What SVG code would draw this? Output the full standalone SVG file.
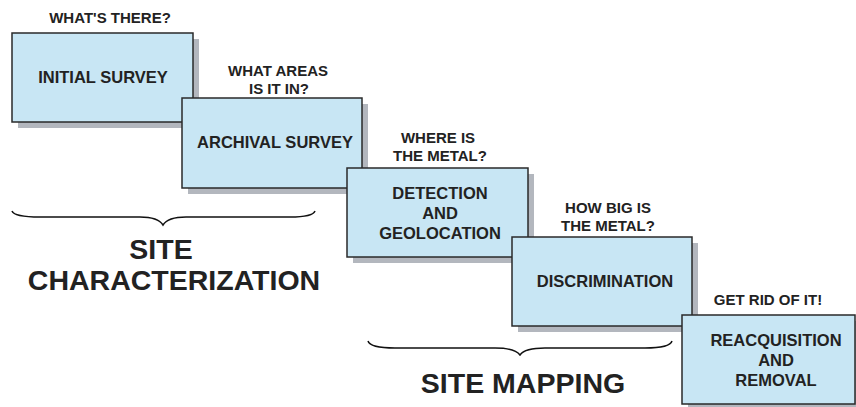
<svg xmlns="http://www.w3.org/2000/svg" width="856" height="407" viewBox="0 0 856 407">
<style>
.box{fill:#c8e6f4;stroke:#2a2a2a;stroke-width:1.5}
.sh{fill:#b3b7be}
.t{font-family:"Liberation Sans",Arial,sans-serif;font-weight:bold;fill:#222;text-anchor:middle}
.q{font-size:15px}
.b{font-size:16.5px}
.big{font-size:28.5px}
.brace{fill:none;stroke:#111;stroke-width:1.5}
</style>
<rect width="856" height="407" fill="#fff"/>
<g id="n1">
<rect class="sh" x="18" y="39" width="181" height="89"/>
<rect class="box" x="12" y="33" width="181" height="89"/>
<text class="t b" x="103" y="83">INITIAL SURVEY</text>
</g>
<g id="n2">
<rect class="sh" x="188" y="104" width="180" height="90"/>
<rect class="box" x="182" y="98" width="180" height="90"/>
<text class="t b" x="275" y="148">ARCHIVAL SURVEY</text>
</g>
<g id="n3">
<rect class="sh" x="353" y="174" width="181" height="89"/>
<rect class="box" x="347" y="168" width="181" height="89"/>
<text class="t b" x="440" y="199">DETECTION</text>
<text class="t b" x="440" y="219">AND</text>
<text class="t b" x="440" y="239">GEOLOCATION</text>
</g>
<g id="n4">
<rect class="sh" x="518" y="243" width="180" height="89"/>
<rect class="box" x="512" y="237" width="180" height="89"/>
<text class="t b" x="605" y="287">DISCRIMINATION</text>
</g>
<g id="n5">
<rect class="sh" x="688" y="321" width="175" height="89"/>
<rect class="box" x="682" y="315" width="173" height="89"/>
<text class="t b" x="776" y="346">REACQUISITION</text>
<text class="t b" x="776" y="366">AND</text>
<text class="t b" x="776" y="386">REMOVAL</text>
</g>
<g id="labels">
<text class="t q" x="110" y="23">WHAT'S THERE?</text>
<text class="t q" x="278" y="76">WHAT AREAS</text>
<text class="t q" x="279" y="94">IS IT IN?</text>
<text class="t q" x="438" y="143">WHERE IS</text>
<text class="t q" x="440" y="161">THE METAL?</text>
<text class="t q" x="608" y="213">HOW BIG IS</text>
<text class="t q" x="608" y="231">THE METAL?</text>
<text class="t q" x="768" y="305">GET RID OF IT!</text>
</g>
<g id="connectors">
<path class="brace" d="M12,211 Q14,217 40,217 L140,217 Q158,217 163,225 Q168,217 186,217 L290,217 Q313,217 315,211"/>
<path class="brace" d="M368,341 Q370,348 395,348 L495,348 Q515,348 520,355 Q525,348 545,348 L645,348 Q670,348 672,341"/>
</g>
<g id="groups">
<text class="t big" x="161" y="259">SITE</text>
<text class="t big" x="174" y="290">CHARACTERIZATION</text>
<text class="t big" x="523" y="393">SITE MAPPING</text>
</g>
</svg>
